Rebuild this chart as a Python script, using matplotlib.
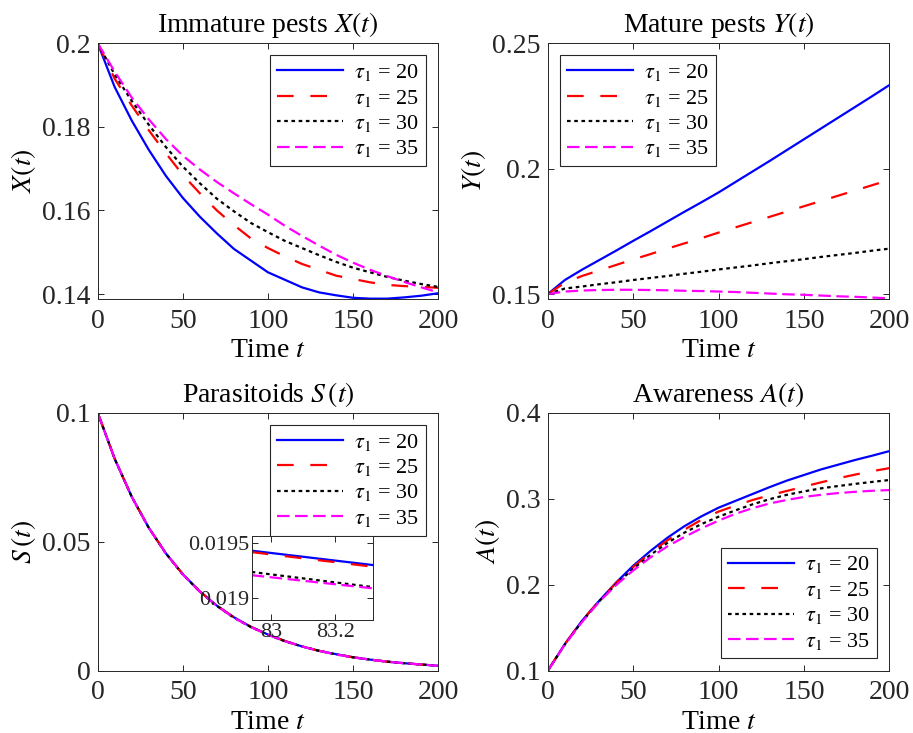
import matplotlib.pyplot as plt
import numpy as np
from matplotlib.ticker import FuncFormatter

plt.rcParams["font.family"] = ["Liberation Serif", "DejaVu Serif"]
plt.rcParams["mathtext.fontset"] = "stix"
plt.rcParams["lines.scale_dashes"] = False

# time grid (read every 10 time units)
t = np.arange(0, 201, 10)
taus = [20, 25, 30, 35]

# immature pests X(t)
x_20 = [0.2, 0.1895, 0.1815, 0.1745, 0.1683, 0.1630, 0.1585, 0.1545, 0.1508, 0.1480, 0.1452,
        0.1434, 0.1416, 0.1404, 0.1397, 0.1391, 0.1389, 0.1389, 0.1392, 0.1396, 0.1402]
x_25 = [0.2, 0.1915, 0.1851, 0.1792, 0.1737, 0.1685, 0.1641, 0.1600, 0.1565, 0.1533, 0.1510,
        0.1490, 0.1472, 0.1458, 0.1444, 0.1436, 0.1428, 0.1422, 0.1419, 0.1417, 0.1415]
x_30 = [0.2, 0.1925, 0.1862, 0.1805, 0.1752, 0.1705, 0.1665, 0.1628, 0.1598, 0.1570, 0.1548,
        0.1527, 0.1510, 0.1493, 0.1477, 0.1463, 0.1452, 0.1441, 0.1432, 0.1424, 0.1417]
x_35 = [0.2, 0.1932, 0.1870, 0.1818, 0.1771, 0.1731, 0.1698, 0.1668, 0.1641, 0.1615, 0.1590,
        0.1563, 0.1539, 0.1516, 0.1494, 0.1475, 0.1458, 0.1443, 0.1429, 0.1416, 0.1404]

# mature pests Y(t)
y_20 = [0.15, 0.1556, 0.1597, 0.1635, 0.1673, 0.1712, 0.1750, 0.1789, 0.1828, 0.1866, 0.1905,
        0.1947, 0.1989, 0.2031, 0.2074, 0.2117, 0.2160, 0.2203, 0.2246, 0.2289, 0.2333]
y_25 = [0.15, 0.1545, 0.1572, 0.1594, 0.1616, 0.1638, 0.1659, 0.1681, 0.1702, 0.1723, 0.1745,
        0.1766, 0.1787, 0.1808, 0.1829, 0.1850, 0.1871, 0.1892, 0.1913, 0.1934, 0.1955]
y_30 = [0.15, 0.1522, 0.1530, 0.1539, 0.1547, 0.1556, 0.1564, 0.1572, 0.1581, 0.1589, 0.1598,
        0.1606, 0.1614, 0.1623, 0.1631, 0.1639, 0.1648, 0.1656, 0.1664, 0.1673, 0.1681]
y_35 = [0.15, 0.1510, 0.1514, 0.1516, 0.1517, 0.1517, 0.1516, 0.1515, 0.1513, 0.1512, 0.1510,
        0.1508, 0.1505, 0.1502, 0.1499, 0.1497, 0.1494, 0.1491, 0.1489, 0.1486, 0.1483]

# parasitoids S(t)
s_20 = [0.1, 0.0821, 0.0674, 0.0554, 0.0455, 0.0374, 0.0307, 0.0252, 0.0207, 0.0170, 0.0140,
        0.0115, 0.0094, 0.0077, 0.0064, 0.0052, 0.0043, 0.0035, 0.0029, 0.0024, 0.0019]
s_25 = [0.1, 0.0821, 0.0674, 0.0554, 0.0455, 0.0374, 0.0307, 0.0252, 0.0207, 0.0170, 0.0140,
        0.0115, 0.0094, 0.0077, 0.0064, 0.0052, 0.0043, 0.0035, 0.0029, 0.0024, 0.0019]
s_30 = [0.1, 0.0821, 0.0674, 0.0554, 0.0455, 0.0373, 0.0306, 0.0251, 0.0205, 0.0169, 0.0139,
        0.0114, 0.0094, 0.0077, 0.0063, 0.0052, 0.0043, 0.0035, 0.0029, 0.0024, 0.0019]
s_35 = [0.1, 0.0821, 0.0674, 0.0554, 0.0455, 0.0373, 0.0306, 0.0251, 0.0205, 0.0169, 0.0139,
        0.0114, 0.0094, 0.0077, 0.0063, 0.0052, 0.0043, 0.0035, 0.0029, 0.0024, 0.0019]

# zoomed S(t) near t = 83
t_zoom = [82.94, 83.32]
s_zoom_20 = [0.019429, 0.019299]
s_zoom_25 = [0.019416, 0.019284]
s_zoom_30 = [0.019238, 0.019101]
s_zoom_35 = [0.019209, 0.019090]

# awareness A(t)
a_20 = [0.1, 0.131, 0.158, 0.181, 0.2025, 0.222, 0.239, 0.2545, 0.268, 0.2795, 0.2895,
        0.2975, 0.3055, 0.3135, 0.321, 0.3275, 0.334, 0.3395, 0.345, 0.350, 0.3553]
a_25 = [0.1, 0.131, 0.158, 0.181, 0.202, 0.2205, 0.237, 0.2515, 0.264, 0.2755, 0.285,
        0.292, 0.2985, 0.304, 0.309, 0.314, 0.319, 0.3237, 0.328, 0.332, 0.3355]
a_30 = [0.1, 0.1305, 0.157, 0.1805, 0.2005, 0.2185, 0.2345, 0.2485, 0.2605, 0.2705, 0.279,
        0.2865, 0.2935, 0.2995, 0.3045, 0.3085, 0.312, 0.3147, 0.3172, 0.3195, 0.3217]
a_35 = [0.1, 0.1305, 0.1565, 0.18, 0.1995, 0.2165, 0.2315, 0.2445, 0.2555, 0.2655, 0.2745,
        0.2825, 0.289, 0.2945, 0.2985, 0.302, 0.3045, 0.3065, 0.308, 0.3092, 0.3100]

colors = ["#0000ff", "#ff0000", "#000000", "#ff00ff"]
styles = ["-", (0, (12, 12)), (0, (2.6, 2.6)), (0, (9, 4))]
LW = 1.6
FS = 20
AX_COL = "#262626"


def style_axes(ax, fs=FS):
    ax.tick_params(direction="in", top=True, right=True, labelsize=fs,
                   colors=AX_COL, length=4, width=0.7)
    for sp in ax.spines.values():
        sp.set_color(AX_COL)
        sp.set_linewidth(0.7)
    ax.yaxis.set_major_formatter(FuncFormatter(lambda v, p: "%g" % round(v, 6)))
    ax.xaxis.set_major_formatter(FuncFormatter(lambda v, p: "%g" % round(v, 6)))


def draw_panel(ax, series, title, ylabel, ylim, yticks, loc):
    for vals, tau, c, ls in zip(series, taus, colors, styles):
        ax.plot(t, vals, color=c, ls=ls, lw=LW, label=r"$\tau_1$ = %d" % tau)
    ax.set_xlim(0, 200)
    ax.set_ylim(*ylim)
    ax.set_xticks([0, 50, 100, 150, 200])
    ax.set_yticks(yticks)
    ax.set_title(title, fontsize=FS, pad=8)
    ax.set_xlabel(r"Time $t$", fontsize=FS, labelpad=3)
    ax.set_ylabel(ylabel, fontsize=FS, labelpad=3)
    style_axes(ax)
    ax.tick_params(axis="x", pad=7)
    ax.tick_params(axis="y", pad=5)
    leg = ax.legend(loc=loc, fontsize=16, handlelength=3.0, fancybox=False,
                    framealpha=1, borderpad=0.3, labelspacing=0.2,
                    handletextpad=0.5, borderaxespad=0.55)
    leg.get_frame().set_edgecolor(AX_COL)
    leg.get_frame().set_linewidth(0.8)


fig = plt.figure(figsize=(9.13, 7.33), dpi=100)
ax1 = fig.add_axes([0.107, 0.592, 0.373, 0.349])
ax2 = fig.add_axes([0.600, 0.592, 0.374, 0.349])
ax3 = fig.add_axes([0.107, 0.085, 0.373, 0.352])
ax4 = fig.add_axes([0.600, 0.085, 0.374, 0.352])

draw_panel(ax1, [x_20, x_25, x_30, x_35], r"Immature pests $X(t)$", r"$X(t)$",
           (0.1388, 0.2), [0.14, 0.16, 0.18, 0.2], "upper right")
draw_panel(ax2, [y_20, y_25, y_30, y_35], r"Mature pests $Y(t)$", r"$Y(t)$",
           (0.148, 0.25), [0.15, 0.2, 0.25], "upper left")
draw_panel(ax3, [s_20, s_25, s_30, s_35], r"Parasitoids $S\,(t)$", r"$S\,(t)$",
           (0, 0.1), [0, 0.05, 0.1], "upper right")
draw_panel(ax4, [a_20, a_25, a_30, a_35], r"Awareness $A(t)$", r"$A(t)$",
           (0.1, 0.4), [0.1, 0.2, 0.3, 0.4], "lower right")

# inset with the zoomed parasitoid curves
axin = fig.add_axes([0.276, 0.1545, 0.132, 0.114])
for vals, c, ls in zip([s_zoom_20, s_zoom_25, s_zoom_30, s_zoom_35], colors, styles):
    axin.plot(t_zoom, vals, color=c, ls=ls, lw=LW)
axin.set_xlim(82.941, 83.316)
axin.set_ylim(0.018809, 0.019559)
axin.set_xticks([83, 83.2])
axin.set_yticks([0.019, 0.0195])
style_axes(axin, fs=16)
axin.tick_params(pad=2)

fig.savefig("out.png", dpi=100)
